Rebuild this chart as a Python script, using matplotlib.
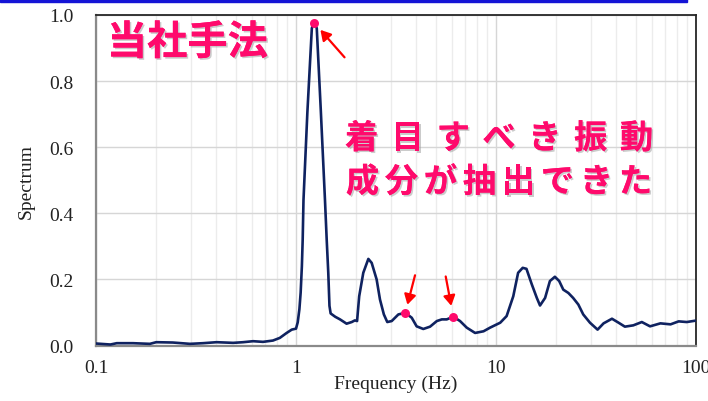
import matplotlib
matplotlib.use("Agg")
import matplotlib.pyplot as plt
import matplotlib.patheffects as pe
from matplotlib.patches import Rectangle
from matplotlib.ticker import LogLocator, FixedLocator, NullFormatter

# スペクトルのデータ
freq = [0.1, 0.118, 0.127, 0.153, 0.186, 0.2, 0.242, 0.295, 0.343, 0.401,
        0.485, 0.544, 0.61, 0.684, 0.767, 0.83, 0.898, 0.952, 1.0, 1.02,
        1.04, 1.055, 1.07, 1.08, 1.09, 1.14, 1.20, 1.23, 1.27, 1.33,
        1.396, 1.424, 1.45, 1.47, 1.49, 1.57, 1.66, 1.79, 1.9, 1.97,
        2.02, 2.07, 2.17, 2.30, 2.39, 2.53, 2.63, 2.75, 2.86, 3.01,
        3.25, 3.52, 3.79, 4.01, 4.33, 4.68, 5.06, 5.36, 5.67, 6.12,
        6.61, 7.14, 7.86, 8.66, 9.34, 10.5, 11.3, 12.2, 12.9, 13.6,
        14.2, 15.1, 16.0, 16.6, 17.6, 18.6, 19.7, 20.7, 21.7, 23.0,
        24.3, 25.8, 27.3, 29.5, 32.2, 34.5, 38.0, 41.0, 44.1, 48.6,
        53.6, 58.9, 66.4, 74.6, 81.9, 89.9, 99.0, 100.0]
spectrum = [0.006, 0.003, 0.007, 0.007, 0.005, 0.010, 0.009, 0.005, 0.007, 0.010,
            0.008, 0.010, 0.013, 0.011, 0.015, 0.023, 0.038, 0.048, 0.051, 0.07,
            0.11, 0.16, 0.24, 0.32, 0.44, 0.706, 0.96, 0.977, 0.96, 0.713,
            0.44, 0.32, 0.22, 0.12, 0.097, 0.087, 0.079, 0.066, 0.071, 0.076,
            0.074, 0.149, 0.22, 0.262, 0.25, 0.2, 0.139, 0.094, 0.071, 0.074,
            0.094, 0.099, 0.084, 0.058, 0.05, 0.057, 0.074, 0.079, 0.079, 0.087,
            0.074, 0.054, 0.038, 0.043, 0.054, 0.069, 0.089, 0.149, 0.22, 0.235,
            0.232, 0.185, 0.144, 0.121, 0.144, 0.195, 0.208, 0.195, 0.169, 0.159,
            0.144, 0.124, 0.094, 0.069, 0.048, 0.067, 0.081, 0.069, 0.057, 0.061,
            0.071, 0.058, 0.067, 0.064, 0.073, 0.071, 0.075, 0.075]

# 注目する点
peak_freq = [1.23, 3.52, 6.12]
peak_val = [0.977, 0.099, 0.087]
# 矢印の尾の位置（点からのオフセット, pt）
arrow_offsets = [(22, -25), (7, 27), (-5.5, 29)]
arrow_shrink = [7, 6, 8]

x_ticks = [0.1, 1, 10, 100]
x_labels = ["0.1", "1", "10", "100"]
y_ticks = [0.0, 0.2, 0.4, 0.6, 0.8, 1.0]

title_text = "当社手法"
note_line1 = "着目すべき振動"
note_line2 = "成分が抽出できた"

pink = "#ff0a6c"
navy = "#0f2260"
cjk = ["Noto Sans CJK JP", "DejaVu Sans"]

fig = plt.figure(figsize=(7.08, 4.02), dpi=100)
ax = fig.add_axes([96 / 708, 1 - 346.5 / 402, 600 / 708, 330.5 / 402])

# 上部の青い帯
fig.patches.append(Rectangle((0, 1 - 3 / 402), 687 / 708, 3 / 402,
                             transform=fig.transFigure, color="#1414d6", zorder=0))

ax.set_xscale("log")
ax.set_xlim(0.1, 100)
ax.set_ylim(0, 1.0)

ax.xaxis.set_major_locator(FixedLocator(x_ticks))
ax.set_xticklabels(x_labels)
ax.xaxis.set_minor_locator(LogLocator(base=10, subs=range(2, 10)))
ax.xaxis.set_minor_formatter(NullFormatter())
ax.set_yticks(y_ticks)
ax.set_yticklabels([f"{v:.1f}" for v in y_ticks])

ax.grid(True, which="major", color="#d6d6d6", lw=1.0)
ax.grid(True, which="minor", axis="x", color="#ececec", lw=1.0)
ax.set_axisbelow(True)

ax.tick_params(which="both", length=0)
ax.tick_params(axis="y", pad=16)
ax.tick_params(axis="x", pad=10)
for lab in ax.get_xticklabels() + ax.get_yticklabels():
    lab.set_fontfamily("Liberation Serif")
    lab.set_fontsize(14)
    lab.set_color("#222222")

for side in ["top", "right"]:
    ax.spines[side].set_color("#262626")
    ax.spines[side].set_linewidth(1.3)
for side in ["left", "bottom"]:
    ax.spines[side].set_color("#8a8a8a")
    ax.spines[side].set_linewidth(1.6)

ax.set_xlabel("Frequency (Hz)", family="Liberation Serif", fontsize=14, color="#222222")
ax.set_ylabel("Spectrum", family="Liberation Serif", fontsize=14, color="#222222")
ax.xaxis.set_label_coords(0.5, -0.089)
ax.yaxis.set_label_coords(-0.102, 0.5)

ax.plot(freq, spectrum, color=navy, lw=1.9, zorder=3)
ax.scatter(peak_freq, peak_val, s=42, color=pink, zorder=4, linewidths=0)

for fx, fy, off, sh in zip(peak_freq, peak_val, arrow_offsets, arrow_shrink):
    ax.annotate("", xy=(fx, fy), xytext=off, textcoords="offset points",
                arrowprops=dict(arrowstyle="-|>,head_length=0.6,head_width=0.35",
                                color="#ff0000", lw=1.6, shrinkA=0, shrinkB=sh),
                zorder=5)

shadow = [pe.withSimplePatchShadow(offset=(1.2, -1.2), shadow_rgbFace="#999999", alpha=0.5),
          pe.Normal()]

ax.text(0.018, 0.915, title_text, transform=ax.transAxes, family=cjk,
        fontsize=29, fontweight="bold", color=pink, ha="left", va="center",
        path_effects=shadow, zorder=6)

# 文字ごとに配置（字間を合わせる）
for i, ch in enumerate(note_line1):
    ax.text((361.7 - 96 + i * 45.8) / 600, 0.625, ch, transform=ax.transAxes,
            family=cjk, fontsize=24, fontweight="bold", color=pink,
            ha="center", va="center", path_effects=shadow, zorder=6)
for i, ch in enumerate(note_line2):
    ax.text((362.5 - 96 + i * 39.0) / 600, 0.493, ch, transform=ax.transAxes,
            family=cjk, fontsize=24, fontweight="bold", color=pink,
            ha="center", va="center", path_effects=shadow, zorder=6)

fig.savefig("out.png", dpi=100)
